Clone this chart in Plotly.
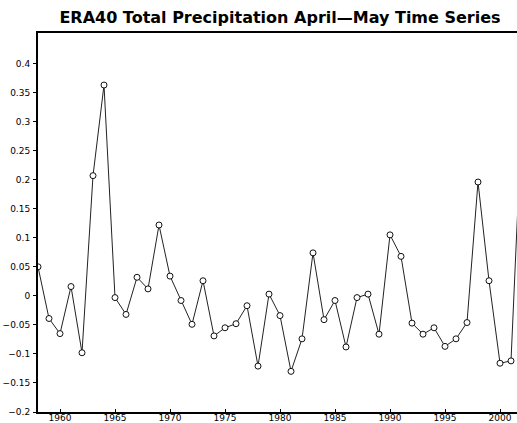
import plotly.graph_objects as go

years = list(range(1958, 2003))
precip = [0.050, -0.039, -0.065, 0.016, -0.098, 0.207, 0.363, -0.003, -0.032, 0.032,
          0.012, 0.122, 0.034, -0.008, -0.049, 0.026, -0.069, -0.055, -0.048, -0.017,
          -0.121, 0.003, -0.034, -0.130, -0.074, 0.074, -0.041, -0.008, -0.088, -0.003,
          0.003, -0.066, 0.105, 0.068, -0.047, -0.066, -0.055, -0.087, -0.074, -0.046,
          0.196, 0.026, -0.116, -0.112, 0.315]

y_tickvals = [-0.2, -0.15, -0.1, -0.05, 0, 0.05, 0.1, 0.15, 0.2, 0.25, 0.3, 0.35, 0.4]
y_ticktext = ["\u22120.2", "\u22120.15", "\u22120.1", "\u22120.05", "0", "0.05", "0.1",
              "0.15", "0.2", "0.25", "0.3", "0.35", "0.4"]
x_tickvals = [1960, 1965, 1970, 1975, 1980, 1985, 1990, 1995, 2000]
x_ticktext = ["1960", "1965", "1970", "1975", "1980", "1985", "1990", "1995", "2000"]

title_text = "ERA40 Total Precipitation April\u2014May Time Series"

fig = go.Figure()
fig.add_trace(go.Scatter(
    x=years, y=precip, mode="lines+markers",
    line=dict(color="#222222", width=1),
    marker=dict(symbol="circle", size=6, color="white",
                line=dict(color="#111111", width=1)),
    showlegend=False,
))

fig.update_layout(
    width=517, height=423,
    margin=dict(l=38, r=0, t=33, b=9),
    paper_bgcolor="white", plot_bgcolor="white",
    title=dict(text=title_text, x=0.5416, xanchor="center", y=0.96, yanchor="middle",
               font=dict(family="DejaVu Sans", size=16, color="black", weight="bold")),
    xaxis=dict(range=[1958, 2001.545], tickvals=x_tickvals, ticktext=x_ticktext,
               showgrid=False, zeroline=False, showline=True, linecolor="black",
               linewidth=2, mirror=True, ticks="inside", ticklen=3, tickcolor="black",
               ticklabelstandoff=-4,
               tickfont=dict(family="DejaVu Sans", size=9, color="black")),
    yaxis=dict(range=[-0.2, 0.4526], tickvals=y_tickvals, ticktext=y_ticktext,
               showgrid=False, zeroline=False, showline=True, linecolor="black",
               linewidth=2, mirror=False, ticks="outside", ticklen=3, tickcolor="black",
               ticklabelstandoff=1,
               tickfont=dict(family="DejaVu Sans", size=9, color="black")),
)

fig.write_html("out.html", config={"displayModeBar": False},
               post_script="document.body.style.margin='0';document.body.style.overflow='hidden';")
